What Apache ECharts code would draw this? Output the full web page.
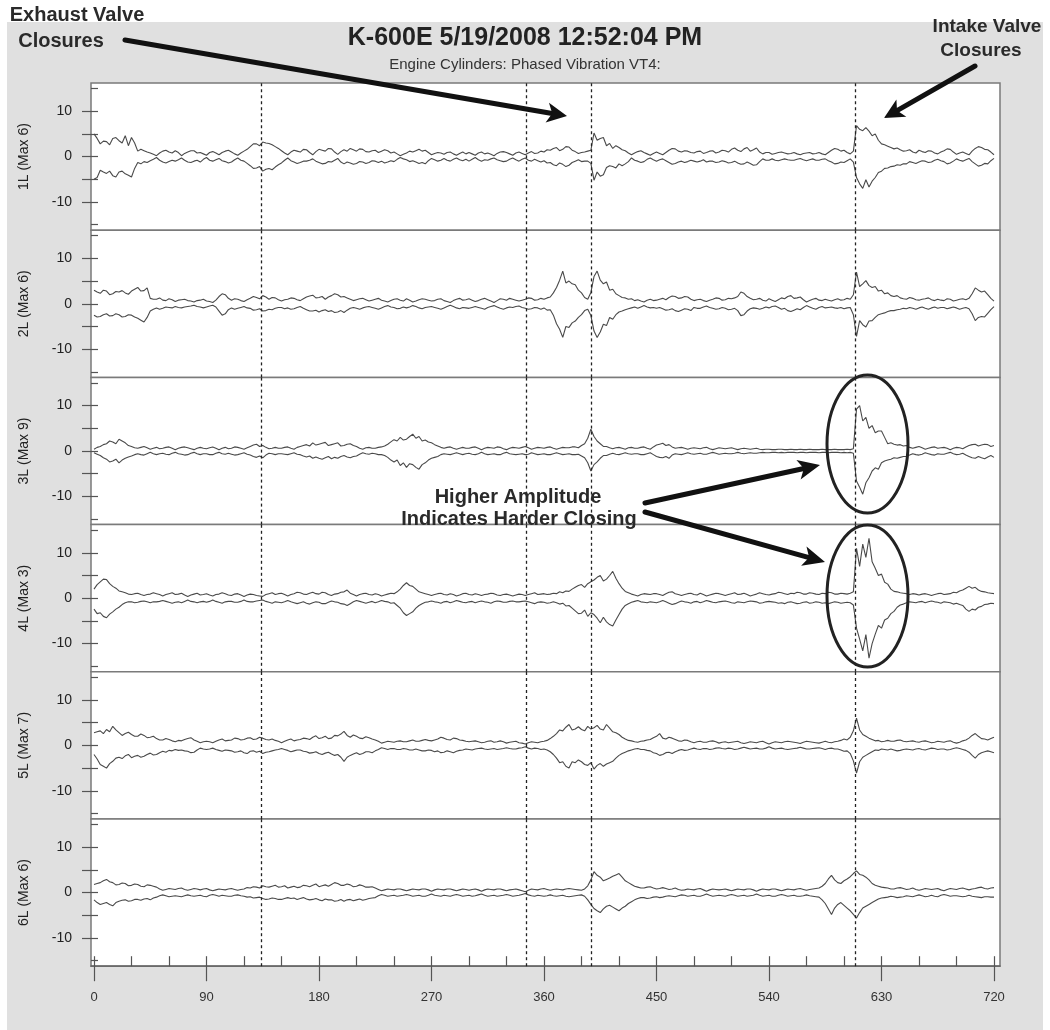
<!DOCTYPE html>
<html>
<head>
<meta charset="utf-8">
<script src="https://cdn.jsdelivr.net/npm/echarts@6/dist/echarts.min.js"></script>
<style>
html,body{margin:0;padding:0;background:#fff;}
#chart{width:1050px;height:1030px;}
</style>
</head>
<body>
<div id="chart"></div>
<script>
// ---------- DATA ----------
const TITLE = 'K-600E 5/19/2008 12:52:04 PM';
const SUBTITLE = 'Engine Cylinders: Phased Vibration VT4:';
const PANEL_NAMES = ['1L (Max 6)', '2L (Max 6)', '3L (Max 9)', '4L (Max 3)', '5L (Max 7)', '6L (Max 6)'];
const ANGLE_STEP = 2.5; // crank-angle spacing of the envelope samples (0..720)
const X_LABEL_TICKS = [0, 90, 180, 270, 360, 450, 540, 630, 720];
const X_MINOR_TICKS = [0, 30, 60, 90, 120, 150, 180, 210, 240, 270, 300, 330, 360, 390, 420, 450, 480, 510, 540, 570, 600, 630, 660, 690, 720];
const Y_LABEL_TICKS = [-10, 0, 10];
const Y_OUT_TICKS = [-10, -5, 0, 5, 10];
const Y_IN_TICKS = [-15, -10, -5, 0, 5, 10, 15];
const VALVE_LINES = [134, 346, 398, 609];

// upper / lower vibration envelopes per cylinder, one value every 2.5 degrees (0..720)
const U1 = [5.0,4.0,2.8,3.4,3.3,2.6,4.0,4.2,3.5,3.0,4.6,2.4,4.2,3.0,1.2,1.6,1.3,1.0,0.8,0.5,
 0.2,0.8,1.2,1.4,1.0,0.8,1.3,0.9,0.2,0.7,1.0,1.3,1.3,0.8,0.9,0.6,0.3,0.9,1.1,0.8,
 0.4,0.9,1.2,1.4,1.0,0.6,0.3,0.8,1.2,1.6,2.2,2.8,2.8,2.4,3.2,3.0,2.9,2.6,2.2,1.8,
 1.3,0.8,0.4,1.0,1.4,1.2,1.0,1.6,1.5,0.9,0.4,1.1,1.6,1.4,1.2,1.8,1.7,1.0,0.5,1.1,
 1.5,1.2,1.8,1.5,1.2,1.7,1.6,1.1,1.0,1.3,1.4,0.9,1.2,1.5,1.3,0.8,1.0,0.6,0.2,0.5,
 0.8,1.2,1.0,1.3,1.6,1.2,1.4,0.9,0.4,0.7,0.9,0.8,0.5,0.9,1.0,0.6,0.3,0.7,1.0,0.6,
 0.9,0.6,0.3,0.8,1.0,0.6,0.8,0.5,0.2,0.7,1.0,1.1,0.9,0.6,0.3,0.8,1.0,0.7,0.4,0.8,
 1.1,0.7,0.8,1.2,1.0,1.5,1.4,1.8,2.0,1.3,1.6,2.2,2.1,1.4,1.1,0.7,0.9,1.0,1.2,1.4,
 5.2,3.6,4.0,4.2,2.4,2.9,1.8,2.4,2.0,1.5,1.3,0.8,0.4,0.8,1.1,1.3,0.9,0.6,0.3,0.7,
 1.0,0.7,0.4,0.9,1.4,1.8,1.7,1.2,1.0,1.3,1.2,0.9,0.8,1.1,1.2,0.7,0.9,1.2,1.3,0.8,
 1.0,1.4,1.3,1.0,1.6,1.9,1.4,1.1,1.7,2.0,1.2,1.5,1.9,1.0,0.6,0.9,0.9,0.5,0.7,0.9,
 1.0,0.8,0.6,0.7,0.9,0.6,0.4,0.7,0.8,0.9,0.6,0.7,0.9,0.6,0.4,0.9,1.4,1.8,1.6,1.2,
 1.4,0.9,0.6,1.2,6.8,6.0,5.7,6.4,5.6,4.6,5.0,3.6,2.8,2.6,2.3,2.0,1.7,1.9,1.5,1.2,
 1.3,1.5,1.0,0.8,1.4,1.1,0.9,1.3,1.2,0.8,0.6,1.0,1.3,1.7,1.6,1.0,0.5,0.8,1.0,0.7,
 0.4,1.2,1.8,2.2,2.0,1.6,1.5,1.0,0.4];
const L1 = [-5.0,-4.6,-3.0,-3.4,-3.7,-3.2,-4.2,-4.5,-3.4,-3.2,-3.8,-4.1,-4.5,-2.6,-1.3,-1.6,-1.1,-1.3,-0.9,-0.6,
 -0.2,-0.8,-1.2,-1.4,-1.1,-0.8,-1.0,-0.7,-0.3,-0.8,-1.2,-1.3,-1.0,-0.8,-1.2,-0.6,-0.2,-0.8,-1.0,-0.7,
 -0.4,-0.9,-1.1,-1.4,-1.2,-0.7,-0.3,-0.8,-1.0,-1.5,-2.0,-2.6,-2.5,-2.2,-3.2,-2.8,-2.6,-2.9,-2.3,-1.8,
 -1.4,-0.8,-0.3,-0.9,-1.2,-1.5,-1.3,-1.0,-1.0,-0.8,-0.5,-1.0,-1.3,-1.6,-1.5,-1.1,-1.2,-0.8,-0.4,-1.2,
 -1.6,-1.2,-1.4,-1.7,-1.5,-1.1,-1.2,-1.5,-1.3,-0.9,-1.0,-1.3,-1.0,-1.4,-1.2,-0.9,-1.1,-0.6,-0.2,-0.5,
 -0.7,-1.1,-0.9,-1.2,-1.5,-1.3,-1.6,-0.9,-0.4,-0.7,-1.0,-0.8,-0.4,-0.8,-1.0,-0.6,-0.3,-0.7,-0.9,-0.6,
 -1.0,-0.6,-0.2,-0.7,-1.0,-0.7,-0.8,-0.5,-0.3,-0.7,-0.9,-1.1,-1.0,-0.6,-0.3,-0.7,-1.0,-0.6,-0.3,-0.8,
 -1.0,-0.6,-0.9,-1.2,-0.9,-1.4,-1.3,-1.8,-2.0,-1.4,-1.7,-2.2,-1.9,-1.3,-1.0,-0.7,-1.1,-1.0,-1.0,-1.5,
 -5.2,-3.4,-4.3,-4.0,-2.4,-2.0,-2.2,-2.5,-1.6,-2.0,-1.6,-1.1,-0.3,-0.8,-1.0,-1.3,-1.1,-0.6,-0.3,-0.7,
 -1.0,-0.7,-0.5,-0.9,-1.3,-1.7,-1.5,-1.2,-1.0,-1.3,-1.1,-0.8,-1.0,-1.2,-1.0,-0.7,-1.2,-1.0,-1.0,-1.3,
 -1.2,-0.9,-1.1,-1.4,-1.3,-1.0,-1.4,-1.7,-1.6,-1.2,-1.5,-1.9,-1.8,-1.1,-0.5,-0.8,-0.8,-0.5,-0.8,-0.9,
 -0.7,-0.5,-0.7,-0.8,-0.8,-0.6,-0.4,-0.7,-0.9,-0.7,-0.5,-0.8,-0.8,-0.6,-0.5,-0.9,-1.2,-1.6,-1.5,-1.2,
 -1.3,-0.9,-0.5,-1.2,-4.6,-6.0,-7.0,-5.1,-6.7,-5.4,-4.6,-3.5,-3.2,-2.6,-2.5,-2.2,-2.1,-1.8,-1.9,-1.6,
 -1.6,-1.1,-1.3,-1.5,-1.2,-0.9,-1.0,-1.3,-1.2,-0.8,-0.6,-0.9,-1.1,-1.6,-1.4,-1.0,-0.5,-0.8,-1.0,-0.7,
 -0.4,-1.1,-1.6,-2.1,-1.9,-1.5,-1.6,-0.9,-0.4];

const U2 = [3.0,2.6,2.3,3.0,2.8,2.0,2.2,2.7,2.6,2.9,2.4,2.1,2.8,3.2,3.6,2.8,2.9,3.5,1.2,1.0,
 1.0,1.3,0.8,0.7,1.1,0.9,0.5,0.8,0.9,1.0,0.7,0.6,0.4,0.7,0.8,1.0,0.6,0.5,0.3,0.8,
 1.6,2.2,2.0,1.2,0.8,1.1,1.0,0.7,0.5,0.9,1.2,1.6,1.4,1.1,1.8,1.5,1.0,1.4,1.3,0.9,
 0.6,0.9,1.0,1.3,1.2,0.9,0.7,1.1,1.5,1.7,1.9,1.3,1.4,1.6,1.0,1.5,1.8,2.2,2.0,1.5,
 1.6,1.3,1.0,0.7,0.9,1.1,1.2,0.9,0.6,0.8,1.0,1.2,0.8,0.6,0.4,0.7,1.0,1.1,0.8,0.6,
 1.1,0.8,0.4,0.6,0.9,1.1,1.0,0.8,0.6,0.7,1.0,1.1,0.7,0.5,0.3,0.7,1.0,1.2,0.8,0.9,
 1.1,0.8,0.5,0.7,1.0,1.2,0.9,0.6,0.3,0.7,1.1,1.0,0.8,1.2,1.0,0.8,0.6,0.8,1.0,1.3,
 1.2,0.8,0.9,1.2,1.0,1.3,1.5,2.4,3.6,5.2,7.2,4.6,5.0,4.4,4.2,3.0,2.4,1.4,1.0,2.5,
 6.0,7.2,5.2,4.4,4.8,3.0,3.2,2.2,1.8,1.4,1.3,1.0,1.1,0.7,0.9,0.6,0.4,0.8,1.0,0.7,
 0.8,1.0,1.2,0.9,1.4,1.7,1.6,1.2,1.3,1.6,1.5,1.0,0.7,0.9,1.0,0.7,0.5,0.8,1.0,1.3,
 1.2,0.8,0.9,1.2,1.1,1.3,1.6,2.6,2.3,1.6,1.2,0.9,1.0,1.2,0.8,0.6,1.1,0.8,0.5,0.9,
 1.3,1.1,1.6,1.8,1.2,1.3,1.5,0.9,0.4,0.7,1.0,1.2,0.8,0.7,1.0,0.8,0.6,0.9,1.1,0.8,
 0.9,1.2,1.0,2.0,7.0,3.8,4.4,5.1,4.0,3.6,3.8,2.8,3.0,2.2,2.4,1.8,1.6,1.8,1.3,1.1,
 1.0,1.4,1.2,0.9,0.8,1.0,1.1,1.3,0.9,0.7,1.0,0.8,0.7,1.1,1.0,0.6,0.8,1.0,1.1,0.9,
 1.2,2.2,3.5,3.0,2.6,2.8,2.0,1.2,0.6];
const L2 = [-2.5,-2.9,-2.8,-2.4,-2.2,-2.7,-2.6,-2.2,-2.4,-2.9,-2.8,-2.4,-2.5,-2.9,-3.2,-3.6,-4.0,-3.0,-1.6,-1.2,
 -0.9,-1.2,-1.0,-0.7,-0.8,-0.9,-0.6,-0.8,-0.9,-0.7,-0.6,-0.5,-0.3,-0.6,-0.7,-0.9,-0.7,-0.5,-0.3,-0.7,
 -1.6,-2.5,-2.2,-1.3,-0.9,-1.2,-1.0,-0.8,-0.6,-0.9,-1.0,-1.4,-1.3,-1.1,-1.6,-1.5,-1.2,-1.3,-1.0,-0.8,
 -0.8,-1.1,-0.9,-1.2,-1.1,-0.8,-0.6,-1.0,-1.3,-1.6,-1.6,-1.4,-1.8,-1.5,-1.3,-1.7,-1.5,-1.9,-1.8,-1.5,
 -1.9,-1.4,-1.0,-0.8,-1.0,-1.2,-0.9,-0.7,-0.6,-0.8,-1.0,-1.2,-0.9,-0.6,-0.4,-0.7,-0.8,-1.1,-1.0,-0.7,
 -0.9,-0.7,-0.4,-0.6,-0.9,-1.1,-0.8,-0.7,-0.6,-0.8,-1.0,-1.2,-0.9,-0.6,-0.3,-0.6,-0.9,-1.1,-0.8,-0.9,
 -1.0,-0.8,-0.6,-0.8,-1.0,-1.2,-0.8,-0.6,-0.4,-0.7,-1.0,-1.2,-0.9,-0.7,-0.8,-0.6,-0.5,-0.8,-1.0,-1.2,
 -1.1,-0.8,-0.9,-1.2,-0.9,-1.4,-1.3,-2.5,-4.4,-5.6,-7.4,-5.0,-5.2,-4.2,-3.8,-3.0,-2.4,-1.5,-1.2,-2.6,
 -6.0,-7.4,-6.2,-4.5,-4.8,-3.0,-3.4,-2.4,-1.8,-1.6,-1.3,-1.1,-0.9,-0.7,-1.0,-0.7,-0.4,-0.7,-0.9,-0.8,
 -1.0,-0.8,-1.1,-1.4,-1.3,-1.1,-1.5,-1.7,-1.4,-1.1,-1.2,-1.5,-0.8,-1.0,-1.0,-0.7,-0.5,-0.8,-1.0,-1.2,
 -1.1,-0.8,-1.0,-1.3,-1.2,-1.0,-1.5,-2.6,-2.4,-1.6,-1.1,-0.9,-1.0,-1.2,-1.0,-0.7,-0.9,-0.6,-0.5,-0.8,
 -1.2,-1.0,-1.5,-1.7,-1.4,-1.1,-1.3,-0.8,-0.4,-0.7,-1.0,-1.2,-0.8,-0.6,-0.9,-0.8,-0.7,-0.9,-1.0,-0.8,
 -1.1,-0.9,-0.8,-2.4,-7.2,-3.7,-4.6,-5.1,-3.8,-3.7,-3.0,-2.4,-2.2,-2.0,-1.7,-1.5,-1.5,-1.3,-1.2,-1.0,
 -1.1,-0.8,-1.0,-1.2,-0.9,-0.7,-1.0,-1.2,-0.9,-0.7,-1.0,-0.8,-0.8,-1.1,-0.9,-0.7,-0.9,-1.2,-1.0,-0.8,
 -1.1,-2.2,-3.7,-3.0,-2.8,-2.9,-2.1,-1.3,-0.6];

const U3 = [0.4,0.8,1.0,1.4,1.6,2.2,2.0,1.6,2.6,2.2,1.8,1.2,1.0,0.7,0.6,0.8,1.0,0.7,0.4,0.6,
 0.8,0.5,0.6,0.8,0.9,0.6,0.3,0.6,0.8,0.9,0.7,0.5,0.3,0.6,0.8,0.6,0.5,0.7,0.9,0.6,
 0.3,0.6,0.8,0.5,0.6,0.9,0.8,0.6,0.4,0.7,1.0,1.3,1.5,1.0,1.2,0.8,0.5,0.6,0.8,0.6,
 0.6,0.8,0.9,0.6,0.4,0.8,1.0,1.2,1.4,1.1,1.8,1.3,1.5,1.7,1.9,1.2,1.4,1.6,1.8,1.1,
 1.2,1.5,1.6,1.2,1.0,0.6,0.4,0.7,0.8,0.6,0.6,0.8,0.9,1.1,1.5,2.0,2.5,2.2,3.0,2.4,
 2.6,3.2,3.7,2.8,3.2,2.2,2.4,2.0,1.8,1.4,1.1,0.8,0.6,0.8,0.9,0.6,0.4,0.6,0.8,0.6,
 0.6,0.8,0.9,0.6,0.3,0.6,0.8,0.7,0.6,0.9,0.8,0.5,0.3,0.6,0.8,0.7,0.6,0.8,1.0,0.7,
 0.4,0.6,0.8,0.7,0.6,0.8,0.9,0.6,0.4,0.6,0.8,0.7,0.7,0.9,0.9,0.7,1.2,1.6,2.8,4.8,
 3.2,2.2,1.6,1.0,1.0,0.7,0.5,0.7,0.8,0.6,0.4,0.7,0.8,0.6,0.6,0.8,0.9,0.6,0.4,0.9,
 1.3,1.5,1.7,1.2,1.4,0.9,0.6,0.7,0.8,0.6,0.4,0.6,0.7,0.6,0.5,0.7,0.8,0.5,0.3,0.5,
 0.7,0.6,0.5,0.6,0.7,0.5,0.3,0.5,0.6,0.5,0.4,0.5,0.6,0.4,0.3,0.4,0.4,0.3,0.3,0.4,
 0.4,0.3,0.3,0.4,0.3,0.3,0.4,0.3,0.3,0.4,0.3,0.3,0.3,0.4,0.3,0.3,0.3,0.4,0.3,0.3,
 0.3,0.4,0.3,0.5,9.2,10.0,6.6,7.4,5.0,5.6,4.0,4.4,4.4,3.0,1.6,1.8,1.5,1.3,1.4,1.1,
 1.2,0.8,0.6,0.8,1.0,0.7,0.4,0.6,0.8,0.9,0.6,0.7,0.8,0.6,0.3,0.6,0.8,0.7,0.5,0.9,
 1.2,1.4,1.5,1.1,1.3,1.5,1.4,1.0,1.2];
const L3 = [-0.4,-0.7,-1.0,-1.5,-1.8,-2.4,-2.2,-1.8,-2.6,-2.0,-1.6,-1.3,-1.1,-0.8,-0.6,-0.8,-0.9,-0.6,-0.3,-0.6,
 -0.8,-0.6,-0.5,-0.7,-0.8,-0.5,-0.3,-0.6,-0.7,-0.9,-0.8,-0.5,-0.3,-0.6,-0.8,-0.6,-0.6,-0.8,-0.8,-0.5,
 -0.3,-0.6,-0.7,-0.5,-0.7,-0.9,-0.8,-0.6,-0.4,-0.7,-0.9,-1.2,-1.4,-1.1,-1.5,-0.9,-0.5,-0.6,-0.8,-0.6,
 -0.6,-0.7,-0.8,-0.6,-0.4,-0.7,-0.8,-1.1,-1.3,-1.1,-1.6,-1.3,-1.6,-1.8,-1.5,-1.2,-1.7,-1.4,-1.6,-1.2,
 -1.0,-1.3,-1.5,-1.2,-1.1,-0.7,-0.4,-0.6,-0.7,-0.5,-0.6,-0.8,-0.8,-1.0,-1.4,-2.0,-2.4,-2.0,-3.2,-2.6,
 -3.6,-2.8,-3.0,-3.6,-4.0,-3.0,-2.6,-2.0,-1.6,-1.4,-1.2,-0.8,-0.6,-0.7,-0.8,-0.6,-0.4,-0.6,-0.8,-0.6,
 -0.5,-0.7,-0.8,-0.6,-0.3,-0.6,-0.8,-0.7,-0.6,-0.8,-0.8,-0.5,-0.3,-0.6,-0.7,-0.8,-0.7,-0.6,-0.8,-0.7,
 -0.4,-0.6,-0.8,-0.7,-0.6,-0.8,-0.8,-0.6,-0.4,-0.6,-0.8,-0.7,-0.6,-0.8,-0.8,-0.7,-1.1,-1.5,-2.6,-4.4,
 -3.0,-2.4,-1.6,-1.0,-1.0,-0.7,-0.5,-0.7,-0.8,-0.6,-0.4,-0.6,-0.7,-0.6,-0.6,-0.8,-0.8,-0.6,-0.4,-0.8,
 -1.2,-1.4,-1.5,-1.2,-1.6,-0.9,-0.6,-0.7,-0.8,-0.6,-0.4,-0.6,-0.7,-0.6,-0.5,-0.7,-0.7,-0.5,-0.3,-0.5,
 -0.7,-0.6,-0.5,-0.6,-0.6,-0.5,-0.3,-0.5,-0.6,-0.5,-0.4,-0.5,-0.5,-0.4,-0.3,-0.4,-0.4,-0.3,-0.3,-0.4,
 -0.3,-0.4,-0.3,-0.3,-0.3,-0.4,-0.3,-0.3,-0.4,-0.3,-0.3,-0.3,-0.4,-0.3,-0.3,-0.4,-0.3,-0.3,-0.3,-0.4,
 -0.3,-0.4,-0.3,-0.5,-6.6,-8.0,-9.5,-7.0,-5.9,-4.4,-3.7,-4.0,-2.6,-2.2,-2.0,-1.8,-1.5,-1.6,-1.4,-1.2,
 -1.2,-0.9,-0.6,-0.8,-0.9,-0.7,-0.4,-0.6,-0.8,-0.9,-0.6,-0.7,-0.7,-0.5,-0.3,-0.6,-0.8,-0.7,-0.5,-0.9,
 -1.2,-1.5,-1.6,-1.2,-1.5,-1.7,-1.3,-1.0,-1.4];

const U4 = [2.0,3.0,3.6,4.2,4.1,3.2,2.6,2.2,1.6,1.4,1.2,0.9,0.8,1.0,1.1,0.8,0.6,0.8,0.9,1.2,
 1.0,0.8,0.5,0.8,1.0,1.2,0.8,0.9,1.1,0.7,0.4,0.7,0.9,1.1,0.7,0.8,1.0,0.7,0.5,0.8,
 0.9,1.2,1.0,0.7,0.6,0.9,1.0,0.7,0.4,0.7,0.9,0.8,0.6,0.5,0.4,0.8,1.0,1.2,0.8,1.0,
 1.1,0.8,0.5,0.8,1.0,1.3,1.2,0.9,0.8,1.1,1.3,1.0,0.9,1.3,1.2,0.8,0.6,0.9,1.0,1.3,
 1.4,1.8,1.1,0.8,0.5,0.8,1.0,1.1,0.8,0.7,1.0,0.8,0.5,0.7,0.9,1.1,1.0,1.4,2.0,2.8,
 3.4,2.8,2.6,2.0,1.4,1.2,1.0,0.8,0.6,0.8,1.0,1.1,0.8,0.7,1.0,0.8,0.5,0.7,1.0,1.1,
 0.8,0.7,1.0,0.8,0.6,0.8,0.9,1.1,1.0,0.7,0.6,0.8,0.9,0.7,0.5,0.7,0.9,0.8,0.6,0.8,
 1.0,1.2,0.8,0.9,1.0,0.8,0.9,1.1,1.0,1.4,1.2,1.6,1.5,2.0,2.4,2.8,3.0,2.4,3.2,3.6,
 4.0,4.6,5.0,3.8,4.2,5.0,5.9,4.4,3.2,2.2,1.5,1.2,0.9,0.7,0.5,0.8,1.0,0.9,0.8,1.0,
 1.0,0.8,0.6,1.0,1.3,1.4,1.0,0.8,0.6,0.8,1.0,1.1,0.8,0.7,1.1,0.8,0.5,0.7,0.9,1.1,
 1.0,0.8,0.6,0.8,1.0,1.2,0.8,0.9,1.1,0.8,0.5,0.7,0.9,1.2,1.0,0.8,0.7,0.9,1.0,1.3,
 1.2,1.0,0.8,1.1,1.0,1.3,1.2,0.9,0.9,1.2,1.1,0.9,0.8,1.1,1.0,1.3,1.2,0.9,0.9,1.1,
 1.0,0.9,1.1,1.4,11.0,7.0,11.9,9.0,13.2,8.0,6.6,5.0,5.3,3.5,3.1,2.0,1.5,1.4,1.2,1.1,
 1.0,0.8,1.0,0.9,0.7,0.9,1.0,0.8,0.6,0.8,1.0,1.1,0.8,0.9,1.0,1.3,1.2,1.6,1.8,2.2,
 2.6,2.2,2.4,1.8,1.5,1.4,1.2,1.1,1.0];
const L4 = [-2.4,-3.4,-3.2,-4.0,-4.3,-3.5,-3.0,-2.4,-2.0,-1.4,-1.0,-0.8,-0.8,-1.0,-0.9,-0.7,-0.6,-0.8,-1.0,-0.8,
 -0.8,-0.7,-0.5,-0.7,-0.9,-1.1,-0.9,-0.8,-1.0,-0.7,-0.4,-0.7,-0.8,-1.0,-0.8,-0.7,-0.9,-0.7,-0.4,-0.7,
 -0.9,-1.1,-0.8,-0.7,-0.7,-0.9,-0.9,-0.7,-0.4,-0.7,-0.8,-0.8,-0.6,-0.5,-0.4,-0.7,-0.9,-1.1,-0.8,-0.9,
 -1.0,-0.8,-0.5,-0.8,-1.0,-1.2,-1.0,-0.8,-1.1,-1.3,-1.0,-0.8,-0.9,-1.2,-1.2,-0.9,-0.6,-0.8,-0.9,-1.2,
 -1.3,-1.6,-1.2,-0.8,-0.5,-0.7,-0.9,-1.1,-0.9,-0.7,-1.0,-0.8,-0.5,-0.7,-0.8,-1.1,-1.0,-1.6,-2.2,-3.2,
 -3.8,-3.4,-3.0,-2.2,-1.6,-1.2,-0.9,-0.8,-0.6,-0.8,-0.9,-1.1,-0.8,-0.7,-1.0,-0.8,-0.5,-0.7,-0.9,-1.0,
 -0.8,-0.7,-1.0,-0.8,-0.6,-0.8,-0.9,-1.1,-0.8,-0.6,-0.7,-0.9,-0.9,-0.7,-0.6,-0.8,-0.8,-0.7,-0.6,-0.8,
 -1.0,-1.2,-0.9,-0.8,-0.9,-1.1,-1.0,-0.8,-1.0,-1.3,-1.1,-1.7,-1.6,-2.2,-2.8,-3.4,-3.3,-2.6,-4.0,-3.2,
 -3.6,-4.4,-5.4,-4.2,-5.2,-5.8,-6.1,-4.8,-3.6,-2.4,-1.6,-1.2,-0.9,-0.7,-0.5,-0.8,-0.9,-1.0,-0.8,-0.9,
 -1.0,-0.8,-0.5,-0.8,-1.1,-1.4,-1.2,-0.9,-0.6,-0.8,-0.9,-1.1,-0.8,-0.7,-1.0,-0.8,-0.5,-0.7,-0.9,-1.0,
 -0.8,-0.7,-0.6,-0.8,-1.0,-1.1,-0.8,-0.9,-1.0,-0.8,-0.6,-0.7,-0.8,-1.1,-1.0,-0.8,-0.7,-0.8,-0.9,-1.1,
 -1.0,-1.2,-0.9,-0.8,-1.0,-1.2,-1.1,-0.9,-0.8,-1.1,-1.0,-0.8,-0.9,-1.1,-1.0,-1.2,-1.0,-0.8,-0.9,-1.1,
 -1.0,-0.9,-1.0,-1.5,-6.6,-9.0,-11.6,-8.0,-13.2,-10.0,-7.9,-6.0,-6.6,-4.8,-4.4,-3.4,-2.9,-2.0,-1.5,-1.3,
 -1.0,-0.8,-0.9,-1.0,-0.8,-0.7,-1.0,-0.8,-0.6,-0.8,-0.9,-1.1,-0.8,-0.9,-1.0,-1.3,-1.1,-1.4,-1.6,-2.4,
 -2.9,-2.4,-2.6,-2.0,-1.8,-1.4,-1.3,-1.1,-1.2];

const U5 = [2.8,3.0,3.2,2.6,3.5,3.0,4.2,3.4,2.8,2.2,2.6,2.9,2.4,2.0,2.0,2.5,2.2,1.7,1.8,2.0,
 1.5,1.2,1.2,1.5,1.3,1.0,0.8,1.1,1.0,1.3,1.5,1.7,1.2,0.9,0.6,0.8,0.9,0.8,0.6,0.9,
 1.2,1.4,1.0,1.1,1.2,1.6,1.5,1.2,1.3,1.6,1.7,1.3,1.4,1.8,1.6,1.3,1.2,1.4,1.1,0.9,
 0.6,0.9,1.2,1.4,1.0,1.2,1.3,1.6,1.5,1.3,1.8,2.1,1.5,1.7,2.0,1.5,1.6,2.2,2.1,2.5,
 3.1,2.2,1.8,2.3,2.0,1.6,1.5,1.9,1.7,1.4,1.2,0.9,0.5,0.7,0.9,0.8,0.7,0.9,1.0,0.8,
 0.8,1.0,1.2,0.9,0.9,1.1,1.3,1.1,1.0,1.2,1.4,1.8,1.6,1.3,1.2,1.6,1.5,1.2,1.1,0.9,
 0.8,0.9,1.0,0.8,0.6,0.7,0.9,1.0,0.7,0.8,1.0,0.8,0.5,0.7,0.8,0.9,0.6,0.5,0.3,0.6,
 0.8,0.7,0.6,0.8,0.9,1.1,1.5,2.0,2.6,3.4,3.2,4.0,4.6,3.4,3.6,4.1,3.5,3.2,4.2,3.6,
 3.9,4.4,3.6,3.4,4.6,3.8,3.0,2.8,2.4,1.8,1.4,1.1,1.0,0.8,0.7,0.9,1.0,1.2,1.3,1.7,
 2.0,2.6,1.6,1.4,1.8,1.6,1.3,1.0,0.9,1.2,1.1,0.8,0.6,0.8,0.9,0.7,0.7,0.9,1.0,0.8,
 0.5,0.7,0.8,0.6,0.7,0.8,0.9,0.6,0.4,0.6,0.8,0.7,0.6,0.8,0.9,0.6,0.3,0.6,0.8,0.7,
 0.6,0.8,0.9,0.8,0.7,0.6,0.4,0.7,0.9,0.8,0.7,0.6,0.5,0.7,0.9,0.7,0.6,0.8,0.9,1.1,
 1.4,1.2,1.8,3.2,6.0,3.4,2.4,2.0,1.6,1.3,1.0,1.1,0.8,0.9,1.1,0.9,0.9,1.1,1.2,0.9,
 0.8,0.9,1.0,0.8,0.7,0.9,1.0,0.8,0.6,0.7,0.9,0.8,0.7,0.9,1.0,0.7,0.5,0.7,1.0,1.2,
 1.6,2.2,2.6,2.0,1.5,1.4,1.2,1.5,1.8];
const L5 = [-2.0,-3.0,-4.2,-4.6,-5.0,-4.0,-3.5,-2.8,-2.6,-2.9,-2.3,-2.0,-2.7,-2.4,-2.2,-2.6,-2.4,-2.0,-1.7,-2.1,
 -2.0,-1.6,-1.3,-1.5,-1.1,-1.2,-0.9,-1.1,-1.0,-1.2,-1.3,-1.6,-1.5,-1.0,-0.6,-0.8,-0.9,-0.8,-0.6,-0.9,
 -1.1,-1.3,-1.0,-1.1,-1.2,-1.5,-1.4,-1.2,-1.6,-1.8,-1.3,-1.2,-1.5,-1.3,-1.8,-1.5,-1.4,-1.2,-1.0,-0.9,
 -0.7,-0.9,-1.1,-1.4,-1.2,-1.0,-1.0,-1.3,-1.4,-1.7,-1.6,-1.4,-1.8,-2.0,-1.7,-1.5,-1.9,-2.2,-2.0,-2.6,
 -3.5,-2.6,-2.2,-1.9,-1.6,-2.0,-1.8,-1.4,-1.4,-1.6,-1.2,-0.9,-0.5,-0.7,-0.9,-0.7,-0.7,-0.9,-0.9,-0.7,
 -0.8,-1.0,-1.0,-0.8,-1.0,-1.2,-1.2,-1.0,-1.1,-1.4,-1.2,-1.6,-1.5,-1.2,-1.4,-1.6,-1.3,-1.1,-1.0,-0.8,
 -0.9,-1.0,-0.8,-0.7,-0.6,-0.8,-0.9,-0.8,-0.7,-0.9,-0.8,-0.7,-0.5,-0.7,-0.8,-0.8,-0.6,-0.5,-0.3,-0.6,
 -0.8,-0.6,-0.7,-0.9,-0.8,-1.0,-1.4,-2.0,-2.8,-3.8,-3.6,-4.6,-5.0,-3.6,-3.8,-3.2,-3.6,-4.2,-4.4,-3.8,
 -5.2,-4.4,-4.0,-4.6,-4.1,-3.8,-3.5,-2.8,-2.2,-1.8,-1.5,-1.2,-1.0,-0.8,-0.7,-0.9,-0.9,-1.1,-1.2,-1.6,
 -1.8,-2.2,-2.0,-1.6,-1.5,-1.8,-1.4,-1.1,-0.9,-1.1,-1.0,-0.8,-0.6,-0.8,-0.9,-0.7,-0.7,-0.9,-0.8,-0.6,
 -0.5,-0.7,-0.8,-0.6,-0.7,-0.9,-0.8,-0.6,-0.4,-0.6,-0.8,-0.7,-0.6,-0.8,-0.8,-0.6,-0.3,-0.6,-0.8,-0.7,
 -0.6,-0.8,-0.9,-0.8,-0.7,-0.6,-0.4,-0.6,-0.8,-0.8,-0.7,-0.6,-0.5,-0.7,-0.9,-0.7,-0.6,-0.8,-0.8,-1.0,
 -1.3,-1.2,-1.8,-3.4,-6.1,-3.6,-2.6,-2.2,-1.8,-1.4,-1.0,-1.1,-0.8,-0.9,-1.0,-0.8,-1.0,-1.2,-1.1,-0.9,
 -0.8,-0.9,-1.0,-0.8,-0.7,-0.9,-1.0,-0.8,-0.6,-0.7,-0.9,-0.8,-0.8,-1.0,-0.9,-0.7,-0.5,-0.7,-0.9,-1.1,
 -1.5,-2.2,-2.8,-2.0,-1.6,-1.4,-1.2,-1.4,-1.6];

const U6 = [1.8,2.0,2.2,2.6,2.9,2.4,2.2,1.7,1.8,2.1,2.0,1.5,1.6,1.9,1.8,1.4,1.3,1.7,1.6,1.4,
 1.2,0.8,0.5,0.7,0.9,0.8,0.7,0.9,1.0,0.7,0.5,0.7,0.9,0.8,0.6,0.8,0.9,0.6,0.4,0.6,
 0.8,0.7,0.6,0.8,0.9,0.7,0.5,0.7,0.8,1.1,1.0,1.3,1.2,1.0,1.5,1.3,1.2,1.4,1.6,1.2,
 1.3,1.5,1.0,1.2,1.4,1.1,1.2,1.6,1.5,1.3,1.6,1.9,1.3,1.5,1.7,1.4,1.8,2.2,2.0,1.6,
 1.6,1.9,1.7,1.3,1.4,1.7,1.5,1.2,1.2,1.3,1.0,0.7,0.4,0.6,0.8,0.7,0.6,0.8,0.8,0.6,
 0.4,0.6,0.8,0.7,0.6,0.8,0.8,0.6,0.3,0.6,0.8,0.7,0.6,0.8,0.8,0.6,0.4,0.6,0.8,0.7,
 0.5,0.7,0.8,0.6,0.3,0.6,0.8,0.7,0.6,0.8,0.8,0.6,0.4,0.6,0.7,0.8,0.6,0.4,0.2,0.5,
 0.8,0.7,0.6,0.8,0.9,0.7,0.5,0.7,0.8,0.7,0.6,0.8,0.9,0.8,0.7,0.6,0.5,0.8,1.5,2.8,
 4.6,3.8,3.4,2.6,2.9,3.2,3.6,3.9,4.2,3.4,2.6,2.2,1.8,1.4,1.2,1.0,1.0,1.2,1.3,1.0,
 0.8,0.9,1.1,0.9,0.7,0.8,1.0,0.7,0.5,0.6,0.8,0.7,0.6,0.8,0.9,0.6,0.3,0.6,0.8,0.7,
 0.6,0.7,0.8,0.6,0.4,0.6,0.8,0.7,0.6,0.8,0.8,0.6,0.3,0.6,0.8,0.7,0.6,0.8,0.8,0.6,
 0.4,0.6,0.8,0.7,0.6,0.8,0.9,0.7,0.5,0.7,0.8,0.9,1.0,1.4,2.0,3.0,3.8,2.8,2.2,2.0,
 2.6,3.0,3.5,4.2,4.8,4.0,3.8,3.4,2.8,2.0,1.6,1.4,1.2,1.1,1.0,0.8,0.8,1.0,1.1,0.9,
 0.7,0.8,1.0,0.7,0.5,0.7,0.9,0.8,0.7,0.8,0.9,0.6,0.4,0.7,0.9,0.8,0.7,0.9,1.0,0.8,
 0.6,0.8,0.9,1.1,1.2,0.9,0.8,1.0,1.1];
const L6 = [-1.6,-2.2,-2.6,-2.4,-2.2,-2.6,-2.9,-2.2,-1.9,-1.7,-1.6,-1.9,-1.8,-1.5,-1.5,-1.7,-1.4,-1.3,-1.6,-1.2,
 -1.0,-0.7,-0.5,-0.7,-0.9,-0.8,-0.7,-0.8,-0.9,-0.7,-0.5,-0.7,-0.8,-0.7,-0.6,-0.8,-0.9,-0.6,-0.4,-0.6,
 -0.8,-0.6,-0.7,-0.8,-0.8,-0.6,-0.5,-0.7,-0.8,-1.0,-0.9,-1.2,-1.1,-1.0,-1.3,-1.5,-1.4,-1.2,-1.3,-1.5,
 -1.5,-1.3,-1.1,-1.3,-1.2,-1.5,-1.3,-1.1,-1.4,-1.6,-1.5,-1.3,-1.6,-1.8,-1.4,-1.6,-1.6,-1.9,-1.8,-1.5,
 -1.9,-1.6,-1.5,-1.8,-1.6,-1.4,-1.7,-1.5,-1.3,-1.2,-1.1,-0.7,-0.4,-0.6,-0.8,-0.7,-0.6,-0.8,-0.7,-0.6,
 -0.4,-0.6,-0.8,-0.7,-0.6,-0.8,-0.8,-0.6,-0.3,-0.6,-0.7,-0.8,-0.6,-0.7,-0.8,-0.6,-0.4,-0.6,-0.8,-0.7,
 -0.6,-0.8,-0.7,-0.5,-0.3,-0.6,-0.8,-0.7,-0.6,-0.8,-0.7,-0.6,-0.4,-0.6,-0.8,-0.7,-0.6,-0.4,-0.2,-0.5,
 -0.7,-0.8,-0.6,-0.7,-0.8,-0.7,-0.5,-0.7,-0.8,-0.7,-0.6,-0.8,-0.9,-0.8,-0.7,-0.6,-0.5,-0.8,-1.6,-2.6,
 -3.5,-4.0,-4.4,-3.6,-3.0,-2.8,-3.2,-3.6,-4.0,-3.4,-3.0,-2.4,-2.0,-1.6,-1.3,-1.1,-1.1,-1.3,-1.2,-1.0,
 -0.9,-1.1,-1.0,-0.8,-0.7,-0.8,-0.9,-0.7,-0.5,-0.6,-0.8,-0.7,-0.6,-0.8,-0.8,-0.6,-0.3,-0.6,-0.8,-0.7,
 -0.6,-0.7,-0.8,-0.6,-0.4,-0.6,-0.8,-0.7,-0.6,-0.8,-0.7,-0.6,-0.3,-0.6,-0.8,-0.7,-0.6,-0.8,-0.8,-0.6,
 -0.4,-0.6,-0.8,-0.7,-0.6,-0.8,-0.8,-0.7,-0.5,-0.7,-0.8,-0.9,-1.0,-1.6,-2.4,-3.6,-4.8,-3.4,-2.6,-2.2,
 -2.8,-3.4,-4.0,-4.8,-5.6,-4.4,-3.4,-3.0,-2.6,-2.2,-1.8,-1.4,-1.2,-1.1,-1.0,-0.8,-0.9,-1.1,-1.0,-0.9,
 -0.7,-0.8,-0.9,-0.7,-0.5,-0.7,-0.9,-0.8,-0.6,-0.8,-0.9,-0.6,-0.4,-0.6,-0.8,-0.7,-0.7,-0.8,-0.9,-0.8,
 -0.6,-0.8,-0.9,-1.0,-1.1,-0.9,-0.9,-1.0,-1.0];

const UPPER = [U1, U2, U3, U4, U5, U6];
const LOWER = [L1, L2, L3, L4, L5, L6];

// ---------- CHART ----------
const FONT = 'Liberation Sans, Arial, sans-serif';
const chart = echarts.init(document.getElementById('chart'), null, {renderer: 'canvas'});

const GRID_LEFT = 91, GRID_W = 909, GRID_TOP = 83, PANEL_H = 147.2;
const X_MIN = -2.4, X_MAX = 724.8, Y_MIN = -16.2, Y_MAX = 16.2;

const grids = [], xAxes = [], yAxes = [], series = [];
for (let i = 0; i < 6; i++) {
  grids.push({left: GRID_LEFT, width: GRID_W, top: GRID_TOP + i * PANEL_H, height: PANEL_H,
    show: true, backgroundColor: '#ffffff', borderColor: '#7a7a7a', borderWidth: 1.5, containLabel: false});
  const last = i === 5;
  xAxes.push({
    gridIndex: i, type: 'value', min: X_MIN, max: X_MAX, position: 'bottom',
    axisLine: {show: last, onZero: false, lineStyle: {color: '#666', width: 1.5}},
    axisTick: {show: last, inside: false, length: 15, customValues: X_LABEL_TICKS, lineStyle: {color: '#555', width: 1.2}},
    axisLabel: {show: last, customValues: X_LABEL_TICKS, margin: 25, color: '#333', fontSize: 13, fontFamily: FONT},
    splitLine: {show: false}
  });
  yAxes.push({
    gridIndex: i, type: 'value', min: Y_MIN, max: Y_MAX, position: 'left',
    name: PANEL_NAMES[i], nameLocation: 'middle', nameRotate: 90, nameGap: 60,
    nameTextStyle: {color: '#222', fontSize: 14, fontFamily: FONT},
    axisLine: {show: false, onZero: false},
    axisTick: {show: true, inside: false, length: 9, customValues: Y_OUT_TICKS, lineStyle: {color: '#555', width: 1.2}},
    axisLabel: {show: true, customValues: Y_LABEL_TICKS, margin: 19, color: '#222', fontSize: 14, fontFamily: FONT},
    splitLine: {show: false}
  });
  yAxes.push({
    gridIndex: i, type: 'value', min: Y_MIN, max: Y_MAX, position: 'left', offset: 0,
    axisLine: {show: false, onZero: false},
    axisTick: {show: true, inside: true, length: 7, customValues: Y_IN_TICKS, lineStyle: {color: '#555', width: 1.2}},
    axisLabel: {show: false}, splitLine: {show: false}
  });
}
// inner minor ticks along the bottom crank-angle axis
xAxes.push({
  gridIndex: 5, type: 'value', min: X_MIN, max: X_MAX, position: 'bottom', offset: 0,
  axisLine: {show: false, onZero: false},
  axisTick: {show: true, inside: true, length: 10, customValues: X_MINOR_TICKS, lineStyle: {color: '#555', width: 1.2}},
  axisLabel: {show: false}, splitLine: {show: false}
});

for (let i = 0; i < 6; i++) {
  const up = UPPER[i].map((v, k) => [k * ANGLE_STEP, v]);
  const lo = LOWER[i].map((v, k) => [k * ANGLE_STEP, v]);
  series.push({
    type: 'line', xAxisIndex: i, yAxisIndex: 2 * i, data: up, showSymbol: false, symbol: 'none',
    lineStyle: {color: '#4a4a4a', width: 1.1}, silent: true, z: 3,
    markLine: {silent: true, symbol: ['none', 'none'], label: {show: false},
      lineStyle: {color: '#222', type: [3, 3], width: 1.3},
      data: VALVE_LINES.map(v => ({xAxis: v}))}
  });
  series.push({
    type: 'line', xAxisIndex: i, yAxisIndex: 2 * i, data: lo, showSymbol: false, symbol: 'none',
    lineStyle: {color: '#4a4a4a', width: 1.1}, silent: true, z: 3
  });
}

function arrow(x1, y1, x2, y2, w, hl, hw) {
  const dx = x2 - x1, dy = y2 - y1, len = Math.hypot(dx, dy);
  const ux = dx / len, uy = dy / len, px = -uy, py = ux;
  const bx = x2 - ux * hl, by = y2 - uy * hl;
  const nx = x2 - ux * hl * 0.75, ny = y2 - uy * hl * 0.75;
  return [
    {type: 'line', z: 100, shape: {x1: x1, y1: y1, x2: nx, y2: ny}, style: {stroke: '#111', lineWidth: w, lineCap: 'round'}},
    {type: 'polygon', z: 100, shape: {points: [[x2, y2], [bx + px * hw, by + py * hw], [nx, ny], [bx - px * hw, by - py * hw]]}, style: {fill: '#111'}}
  ];
}
function label(text, x, y, size) {
  return {type: 'text', z: 100, x: x, y: y, style: {text: text, fill: '#2a2a2a', font: 'bold ' + size + 'px ' + FONT, textAlign: 'center', textVerticalAlign: 'middle'}};
}

const graphics = [
  {type: 'rect', z: -10, silent: true, shape: {x: 7, y: 22, width: 1036, height: 1008}, style: {fill: '#e0e0e0'}},
  label('Exhaust Valve', 77, 15, 20),
  label('Closures', 61, 41, 20),
  label('Intake Valve', 987, 27, 19),
  label('Closures', 981, 51, 19),
  label('Higher Amplitude', 518, 497, 20),
  label('Indicates Harder Closing', 519, 519, 20),
  {type: 'ellipse', z: 100, shape: {cx: 867.5, cy: 444, rx: 40.5, ry: 69}, style: {stroke: '#222', lineWidth: 3, fill: 'none'}},
  {type: 'ellipse', z: 100, shape: {cx: 867.5, cy: 596, rx: 40.5, ry: 71}, style: {stroke: '#222', lineWidth: 3, fill: 'none'}}
].concat(
  arrow(125, 40, 567, 116, 5, 20, 10),
  arrow(975, 66, 884, 118, 5, 20, 10),
  arrow(645, 503, 820, 465, 5, 22, 10),
  arrow(645, 512, 825, 562, 5, 22, 10)
);

chart.setOption({
  animation: false,
  backgroundColor: '#ffffff',
  title: {text: TITLE, subtext: SUBTITLE, left: 'center', top: 21, itemGap: 6,
    textStyle: {fontSize: 25, fontWeight: 'bold', color: '#222', fontFamily: FONT},
    subtextStyle: {fontSize: 15, color: '#333', fontFamily: FONT}},
  grid: grids, xAxis: xAxes, yAxis: yAxes, series: series,
  graphic: graphics
});
</script>
</body>
</html>
